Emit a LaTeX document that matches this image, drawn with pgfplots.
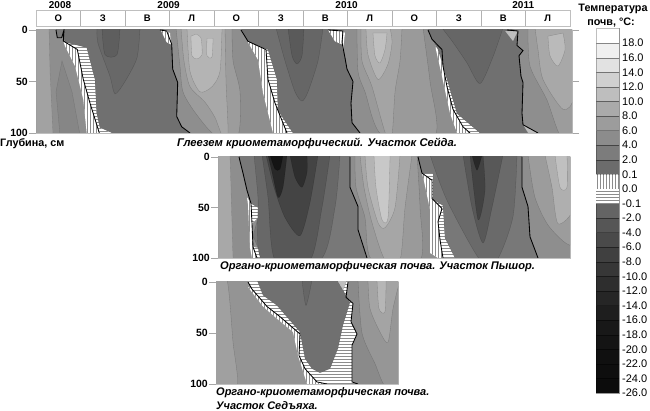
\documentclass[border=0pt]{standalone}
\usepackage{pgfplots}
\pgfplotsset{compat=1.18}
\usepackage{fontspec}
\setmainfont{Liberation Sans}
\usetikzlibrary{patterns}

% filled isotherm region, #1 = grey level 0-255
\newcommand{\reg}[2]{\addplot[smooth,tension=0.45,draw=black,draw opacity=0.22,line width=0.3pt,fill={rgb,255:red,#1;green,#1;blue,#1}] coordinates {#2} --cycle;}
\newcommand{\freg}[2]{\addplot[draw=black,draw opacity=0.15,line width=0.3pt,fill={rgb,255:red,#1;green,#1;blue,#1}] coordinates {#2} --cycle;}
\newcommand{\vst}[1]{\addplot[fill=white,draw=none] coordinates {#1} --cycle;
  \addplot[pattern=vertical lines,pattern color=black!45,draw=none] coordinates {#1} --cycle;}
\newcommand{\hst}[1]{\addplot[fill=white,draw=none] coordinates {#1} --cycle;
  \addplot[pattern=horizontal lines,pattern color=black!45,draw=none] coordinates {#1} --cycle;}
\newcommand{\zero}[1]{\addplot[black,line width=0.85pt] coordinates {#1};}
\newcommand{\cell}[3]{\addplot[draw=black,draw opacity=0.25,line width=0.3pt,fill={rgb,255:red,#1;green,#1;blue,#1}] coordinates {(0,#2)(1,#2)(1,#3)(0,#3)} --cycle;}

\pgfplotsset{panel/.style={
  scale only axis, anchor=north west, y dir=reverse, ymin=0, ymax=100,
  xtick=\empty, ytick={0,50,100}, yticklabels={0,50,100},
  tick align=outside, major tick length=7pt, tick style={black!35,line width=0.4pt},
  axis line style={black!25,line width=0.3pt},
  yticklabel style={font=\bfseries\fontsize{10.5}{12}\selectfont,inner sep=1pt},
  ytick pos=left,
}}

\begin{document}
\begin{tikzpicture}[x=1pt,y=1pt]
\path[use as bounding box] (0,0) rectangle (650,411);

% season strip
\begin{axis}[scale only axis,anchor=north west,at={(36pt,401pt)},width=534pt,height=16pt,
  xmin=0,xmax=12,ymin=0,ymax=1,xtick={0,1,2,3,4,5,6,7,8,9,10,11,12},xticklabels={},ytick=\empty,
  xmajorgrids,grid style={black!30,line width=0.5pt},major tick length=0pt,
  axis line style={black!25,line width=0.4pt},clip=false]
\addplot[draw=none] coordinates {(0,0)(12,1)};
\node[font=\bfseries\fontsize{9.5}{11}\selectfont] at (axis cs:0.5,0.5) {О};
\node[font=\bfseries\fontsize{9.5}{11}\selectfont] at (axis cs:1.5,0.5) {З};
\node[font=\bfseries\fontsize{9.5}{11}\selectfont] at (axis cs:2.5,0.5) {В};
\node[font=\bfseries\fontsize{9.5}{11}\selectfont] at (axis cs:3.5,0.5) {Л};
\node[font=\bfseries\fontsize{9.5}{11}\selectfont] at (axis cs:4.5,0.5) {О};
\node[font=\bfseries\fontsize{9.5}{11}\selectfont] at (axis cs:5.5,0.5) {З};
\node[font=\bfseries\fontsize{9.5}{11}\selectfont] at (axis cs:6.5,0.5) {В};
\node[font=\bfseries\fontsize{9.5}{11}\selectfont] at (axis cs:7.5,0.5) {Л};
\node[font=\bfseries\fontsize{9.5}{11}\selectfont] at (axis cs:8.5,0.5) {О};
\node[font=\bfseries\fontsize{9.5}{11}\selectfont] at (axis cs:9.5,0.5) {З};
\node[font=\bfseries\fontsize{9.5}{11}\selectfont] at (axis cs:10.5,0.5) {В};
\node[font=\bfseries\fontsize{9.5}{11}\selectfont] at (axis cs:11.5,0.5) {Л};
\node[font=\bfseries\fontsize{10}{12}\selectfont,inner sep=0pt] at (axis cs:0.54,1.3) {2008};
\node[font=\bfseries\fontsize{10}{12}\selectfont,inner sep=0pt] at (axis cs:2.98,1.3) {2009};
\node[font=\bfseries\fontsize{10}{12}\selectfont,inner sep=0pt] at (axis cs:6.98,1.3) {2010};
\node[font=\bfseries\fontsize{10}{12}\selectfont,inner sep=0pt] at (axis cs:10.95,1.3) {2011};
\end{axis}

% panel 1: Seida
\begin{axis}[panel,at={(36pt,381pt)},width=536pt,height=103pt,xmin=36,xmax=572,ytick pos=both]
\freg{142}{(36,-2)(572,-2)(572,102)(36,102)}
\freg{162}{(36,-2)(49,-2)(50,40)(53,102)(36,102)}
\freg{134}{(62,30)(72,60)(80,102)(60,102)(56,60)}
% summer 2009
\reg{156}{(176,-2)(180,35)(183,60)(195,80)(215,102)(238,102)(240,60)(233,30)(232,-2)}
\reg{168}{(181,-2)(184,30)(190,55)(205,70)(215,85)(222,102)(228,102)(226,50)(225,-2)}
\reg{180}{(187,-2)(190,40)(200,60)(212,55)(220,40)(222,-2)}
\reg{196}{(191,6)(192,25)(197,28)(202,24)(201,8)(196,4)}
\reg{196}{(207,8)(207,25)(212,26)(213,8)}
% summer 2010
\reg{154}{(357,-2)(358,40)(365,60)(382,102)(435,102)(430,50)(423,-2)}
\reg{164}{(361,-2)(362,30)(372,55)(386,102)(392,102)(395,60)(400,30)(402,-2)}
\reg{178}{(366,-2)(368,24)(378,48)(388,33)(392,12)(390,-2)}
\reg{192}{(373,3)(375,25)(380,32)(385,19)(387,3)}
% summer 2011
\reg{156}{(528,-2)(530,35)(547,68)(560,102)(574,102)(574,-2)}
\reg{168}{(535,-2)(538,19)(543,48)(563,77)(574,64)(574,-2)}
\reg{186}{(548,6)(550,25)(558,35)(565,19)(563,3)}
% zero-degree fringes
\vst{(65,15.6)(75,35)(83.3,67.6)(86.7,100)(99.3,100)(90,71)(83.3,48)(77.3,18.9)(63.3,10.7)}
\hst{(63.3,10.7)(77.3,18.9)(83.3,48)(90,71)(99.3,100)(111.7,100)(100,95)(96.7,80.6)(95,48)(86.7,17)(66,12)}
\vst{(248,12)(258,29)(263,61)(273,100)(287,100)(275,71)(268,48)(266,19)(248,11)}
\hst{(248,11)(266,19)(268,48)(275,71)(287,100)(293,100)(278,78)(277,48)(268,19)}
\vst{(435,15)(442,45)(450,81)(457,100)(470,100)(463,94)(453,77)(447,55)(443,35)(442,19)}
\hst{(432,9)(442,19)(443,35)(447,55)(453,77)(463,94)(470,100)(480,100)(457,81)(448,51)(438,19)}
% winters
\freg{122}{(56,-2)(57.3,7.5)(61.7,7.5)(64,-2)}
\freg{112}{(64,-2)(64,8)(66,12)(86.7,17)(95,48)(96.7,80.6)(100,95)(111.7,100)(111.7,102)(190,102)(190,100)(181.7,94)(176.7,84)(177.7,51)(172.7,38)(171.7,14)(166.7,1)(160,-2)}
\reg{104}{(97,-2)(98,13)(110,45)(115,62)(125,50)(137,27)(140,-2)}
\reg{94}{(102,-2)(105,24)(117,24)(120,-2)}
\freg{112}{(241,-2)(248,11)(268,19)(277,48)(278,78)(293,100)(293,102)(360,102)(360,100)(352,90)(351,71)(353,50)(347,38)(345,27)(342,12)(343,1)(328,-2)}
\reg{102}{(276,-2)(285,30)(295,60)(302,69)(308,60)(318,30)(323,-2)}
\reg{90}{(288,-2)(292,25)(297,33)(302,25)(304,-2)}
\freg{112}{(428,-2)(432,9)(438,19)(448,51)(457,81)(480,100)(480,102)(538,102)(538,100)(523,92)(522,81)(523,51)(521,45)(519,25)(523,20)(517,15)(518,1)(507,-2)}
\reg{102}{(442,-2)(453,12)(467,32)(480,52)(493,26)(503,-2)}
% thaw patches
\vst{(160.7,0)(166.7,12)(171,14)(170,3)(166.7,1)}
\vst{(328,0)(335,11)(342,14)(343,19)(345,3)(343,1)}
\freg{190}{(505,1)(513,11)(518,1)}
\freg{190}{(523,92)(528,100)(538,100)}
\hst{(111.7,100)(100,95)(99.3,100)}
% zero isotherm
\zero{(56,0)(57.3,7.5)(61.7,7.5)(64,0)(63.3,10.7)(77.3,18.9)(83.3,48)(90,71)(99.3,100)}
\zero{(160,0)(166.7,1)(171.7,14)(172.7,38)(177.7,51)(176.7,84)(181.7,94)(190,100)}
\zero{(241,0)(248,11)(266,19)(268,48)(275,71)(287,100)}
\zero{(328,0)(343,1)(342,12)(345,27)(347,38)(353,50)(351,71)(352,90)(360,100)}
\zero{(428,0)(432,9)(442,19)(443,35)(447,55)(453,77)(463,94)(470,100)}
\zero{(507,0)(518,1)(517,15)(523,20)(519,25)(521,45)(523,51)(522,81)(523,92)(538,100)}
\end{axis}

% panel 2: Pyshor
\begin{axis}[panel,at={(218pt,254pt)},width=352pt,height=101pt,xmin=218,xmax=570]
\freg{142}{(218,-2)(572,-2)(572,102)(218,102)}
\freg{168}{(218,-2)(230,-2)(233,102)(218,102)}
% summer 2009
\reg{154}{(355,-2)(356,30)(365,60)(372,102)(420,102)(420,50)(417,-2)}
\reg{166}{(360,-2)(364,30)(372,65)(385,102)(400,102)(405,50)(412,-2)}
\reg{180}{(365,-2)(368,30)(378,65)(385,70)(395,50)(400,-2)}
\reg{200}{(374,-2)(376,30)(382,62)(388,60)(390,-2)}
% summer 2010
\reg{156}{(528,-2)(535,40)(550,70)(574,85)(574,-2)}
\reg{175}{(545,-2)(552,30)(558,66)(574,50)(574,-2)}
\reg{192}{(555,-2)(560,30)(567,30)(567,-2)}
% fringes
\vst{(247,40)(248,47)(250,90)(252,100)(257,100)(253,89)(252,66)(251,46)}
\hst{(251,46)(252,66)(258,60)(258,50)}
\hst{(253,89)(257,100)(268,100)(258,90)}
\vst{(424,24)(430,52)(430,95)(438,100)(443,100)(440,82)(438,64)(442,51)(432,41)(432,23)(422,16)}
\hst{(422,16)(432,23)(432,41)(442,51)(438,64)(440,82)(443,100)(455,100)(445,80)(443,48)(433,42)(433,16)}
% winter 2008/09
\freg{120}{(239,-2)(243,16)(247,33)(251,46)(258,50)(258,60)(253,78)(258,90)(268,100)(268,102)(367,102)(358,72)(358,49)(350,30)(350,-2)}
\reg{104}{(254,-2)(258,40)(262,102)(320,102)(335,50)(340,-2)}
\reg{88}{(262,-2)(268,40)(275,102)(310,102)(322,50)(330,-2)}
\reg{68}{(266,-2)(274,30)(285,60)(300,78)(310,45)(318,-2)}
\reg{40}{(268,-2)(272,15)(278,40)(283,30)(287,-2)}
\reg{46}{(290,-2)(295,20)(302,30)(307,15)(307,-2)}
\reg{20}{(270,-2)(275,12)(280,12)(283,-2)}
% winter 2009/10
\freg{120}{(418,-2)(422,16)(433,16)(433,42)(443,48)(445,80)(455,100)(455,102)(538,102)(538,100)(530,79)(528,49)(522,30)(522,-2)}
\reg{106}{(430,-2)(447,43)(480,102)(497,102)(513,59)(517,-2)}
\reg{88}{(463,-2)(472,50)(483,85)(492,50)(503,-2)}
\reg{66}{(470,-2)(478,62)(485,33)(483,-2)}
\reg{40}{(472,-2)(477,13)(482,-2)}
% zero isotherm
\zero{(239,0)(243,16)(247,33)(251,46)(252,66)(253,89)(257,100)}
\zero{(350,0)(350,30)(358,49)(358,72)(367,100)}
\zero{(418,0)(422,16)(432,23)(432,41)(442,51)(438,64)(440,82)(443,100)}
\zero{(522,0)(522,30)(528,49)(530,79)(538,100)}
\end{axis}

% panel 3: Sedyakha
\begin{axis}[panel,at={(216pt,129pt)},width=182pt,height=102pt,xmin=216,xmax=398]
\freg{148}{(214,-2)(400,-2)(400,102)(214,102)}
\reg{160}{(214,-2)(227,-2)(233,59)(237,102)(214,102)}
% summer
\freg{138}{(346,-2)(400,-2)(400,102)(350,102)}
\reg{150}{(358,-2)(362,50)(375,80)(385,102)(400,102)(400,-2)}
\reg{164}{(368,-2)(370,26)(380,49)(388,59)(393,26)(400,-2)}
\reg{182}{(377,-2)(379,26)(385,29)(386,-2)}
% fringes
\vst{(248,5)(263,24)(277,36)(293,49)(298,72)(307,100)(327,100)(317,98)(305,85)(299,72)(300,51)(280,34)(267,24)(252,7)}
\hst{(248,0)(252,7)(267,24)(280,34)(300,51)(299,72)(305,85)(317,98)(327,100)(358,100)(352,98)(352,62)(357,51)(351,39)(353,21)(346,15)(348,0)}
\freg{112}{(257,-2)(263,13)(277,23)(300,49)(305,75)(312,85)(320,89)(330,85)(338,65)(343,42)(350,20)(343,8)(337,-2)}
\freg{190}{(337,-2)(343,8)(347,-2)}
\reg{102}{(302,-2)(306,23)(312,-2)}
\zero{(248,0)(252,7)(267,24)(280,34)(300,51)(299,72)(305,85)(317,98)(327,100)}
\zero{(348,0)(346,15)(353,21)(351,39)(357,51)(352,62)(352,98)(358,100)}
\end{axis}

% colour scale
\begin{axis}[scale only axis,anchor=north west,at={(596pt,382.5pt)},width=23pt,height=364.5pt,
  xmin=0,xmax=1,ymin=0,ymax=25,xtick=\empty,
  ytick={0,1,2,3,4,5,6,7,8,9,10,11,12,13,14,15,16,17,18,19,20,21,22,23,24},
  yticklabels={-26.0,-24.0,-22.0,-20.0,-18.0,-16.0,-14.0,-12.0,-10.0,-8.0,-6.0,-4.0,-2.0,-0.1,0.0,0.1,2.0,4.0,6.0,8.0,10.0,12.0,14.0,16.0,18.0},
  yticklabel pos=right,major tick length=0pt,
  yticklabel style={font=\fontsize{11}{12}\selectfont,inner sep=1pt,xshift=2pt,anchor=west},
  axis line style={black!40,line width=0.3pt}]
\cell{12}{0}{1}\cell{14}{1}{2}\cell{16}{2}{3}\cell{20}{3}{4}\cell{24}{4}{5}\cell{30}{5}{6}\cell{38}{6}{7}\cell{46}{7}{8}
\cell{55}{8}{9}\cell{64}{9}{10}\cell{74}{10}{11}\cell{86}{11}{12}\cell{100}{12}{13}
\hst{(0,13)(1,13)(1,14)(0,14)}
\vst{(0,14)(1,14)(1,15)(0,15)}
\cell{108}{15}{16}\cell{124}{16}{17}\cell{140}{17}{18}\cell{156}{18}{19}\cell{170}{19}{20}\cell{190}{20}{21}\cell{208}{21}{22}\cell{226}{22}{23}\cell{240}{23}{24}\cell{255}{24}{25}
\end{axis}

% texts
\node[anchor=west,font=\bfseries\fontsize{10.8}{12}\selectfont,inner sep=0pt] at (0,267) {Глубина, см};
\node[anchor=west,font=\bfseries\itshape\fontsize{11.2}{12}\selectfont,inner sep=0pt] at (177,268) {Глеезем криометаморфический. Участок Сейда.};
\node[anchor=west,font=\bfseries\itshape\fontsize{11.1}{12}\selectfont,inner sep=0pt] at (220,144) {Органо-криометаморфическая почва. Участок Пышор.};
\node[anchor=west,font=\bfseries\itshape\fontsize{11}{12}\selectfont,inner sep=0pt] at (216,18) {Органо-криометаморфическая почва.};
\node[anchor=west,font=\bfseries\itshape\fontsize{11}{12}\selectfont,inner sep=0pt] at (216,5.5) {Участок Седъяха.};
\node[font=\bfseries\fontsize{10.8}{12}\selectfont,inner sep=0pt] at (613,402) {Температура};
\node[font=\bfseries\fontsize{10.8}{12}\selectfont,inner sep=0pt] at (611,388) {почв, °С:};
\end{tikzpicture}
\end{document}
